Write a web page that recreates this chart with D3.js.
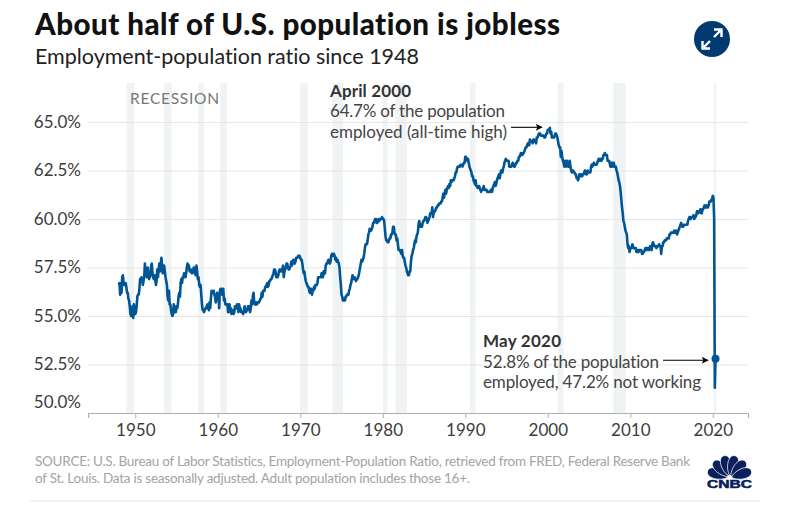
<!DOCTYPE html>
<html>
<head>
<meta charset="utf-8">
<script src="https://cdn.jsdelivr.net/npm/d3@7"></script>
<style>
  html, body { margin: 0; padding: 0; background: #fff; }
  text { font-family: Lato, "Noto Sans", sans-serif; font-variant-ligatures: none; }
</style>
</head>
<body>
<svg id="graph" width="808" height="509"></svg>
<script>
// employment-population ratio, monthly, one row per year starting Jan 1948
const startYear = 1948;
const ratio = [
  56.6,56.7,56.1,56.7,56.2,57.0,57.1,56.7,56.6,56.6,56.7,56.5,
  56.2,56.2,55.9,55.8,55.5,55.1,55.0,55.2,55.5,54.9,55.6,55.2,
  55.1,55.2,55.5,56.0,56.1,56.1,56.4,56.9,56.8,57.0,56.9,56.6,
  56.8,57.0,57.7,57.2,57.4,57.0,57.5,57.1,56.9,57.0,57.1,57.6,
  57.7,57.2,57.0,56.9,57.1,56.9,56.6,56.8,57.4,57.0,57.4,57.7,
  57.3,57.6,58.0,57.6,57.2,57.5,57.6,57.3,57.0,56.8,56.6,56.0,
  55.8,56.3,55.6,55.6,55.3,55.1,55.0,55.1,55.6,55.4,55.2,55.2,
  55.5,55.4,55.6,56.0,56.2,56.0,56.7,56.9,56.7,57.0,57.0,57.2,
  57.1,57.0,57.2,57.5,57.7,57.5,57.6,57.3,57.4,57.4,57.2,57.2,
  57.3,57.5,57.5,57.2,57.1,57.6,57.3,56.9,57.0,56.6,56.5,56.6,
  56.1,55.6,55.3,55.3,55.2,55.3,55.4,55.4,55.5,55.6,55.4,55.3,
  55.7,55.4,55.9,56.3,56.2,56.2,56.3,56.1,56.0,55.7,55.9,56.2,
  56.0,56.1,55.4,56.3,56.4,56.4,56.1,56.1,56.4,55.8,55.9,55.6,
  55.6,55.6,55.6,55.2,55.2,55.6,55.3,55.4,55.1,55.2,55.3,55.1,
  55.2,55.5,55.5,55.4,55.6,55.4,55.2,55.6,55.4,55.4,55.2,55.2,
  55.2,55.1,55.3,55.5,55.3,55.2,55.3,55.3,55.5,55.4,55.5,55.2,
  55.4,55.8,55.6,56.0,56.2,55.7,55.6,55.6,55.7,55.6,55.7,55.7,
  55.7,55.8,55.9,55.9,56.2,56.0,56.3,56.3,56.3,56.5,56.5,56.6,
  56.7,56.5,56.6,56.8,56.8,56.9,56.9,57.0,57.1,57.2,57.4,57.4,
  57.3,57.0,57.0,57.0,57.1,57.3,57.4,57.4,57.3,57.3,57.4,57.6,
  57.0,57.3,57.4,57.5,57.7,57.7,57.5,57.4,57.4,57.5,57.6,57.8,
  57.6,57.8,57.9,57.8,57.7,57.8,58.0,58.0,58.0,58.1,58.1,58.1,
  58.0,57.9,57.9,57.7,57.4,57.2,57.3,57.0,56.8,56.7,56.6,56.5,
  56.5,56.3,56.2,56.4,56.4,56.1,56.3,56.3,56.5,56.4,56.6,56.6,
  56.6,56.7,57.0,57.0,57.0,57.0,57.0,57.2,57.1,57.0,57.3,57.3,
  57.2,57.6,57.7,57.7,57.8,57.9,57.8,57.7,57.8,58.1,58.2,58.1,
  58.2,58.2,58.1,57.9,58.0,57.8,57.9,57.8,57.7,57.5,57.0,56.6,
  56.1,56.0,55.8,55.8,55.9,55.8,56.0,56.0,56.1,56.1,56.1,56.3,
  56.4,56.6,56.7,56.9,57.1,56.9,57.0,57.0,56.9,56.8,56.9,56.9,
  57.0,57.1,57.3,57.5,57.7,57.9,57.8,57.9,58.0,58.2,58.5,58.7,
  58.7,58.7,58.9,59.2,59.3,59.5,59.4,59.4,59.5,59.6,59.8,59.8,
  59.9,60.0,60.0,59.8,59.8,59.9,60.0,59.9,60.0,60.0,60.0,60.1,
  60.0,60.0,59.9,59.5,59.1,58.9,58.9,58.8,58.8,58.9,59.0,59.0,
  59.2,59.2,59.3,59.6,59.6,59.3,59.2,59.2,58.9,59.0,58.7,58.4,
  58.4,58.4,58.3,58.2,58.4,58.1,58.0,58.0,57.8,57.6,57.5,57.3,
  57.2,57.1,57.1,57.3,57.3,57.8,58.1,58.2,58.4,58.5,58.7,58.9,
  58.8,59.1,59.2,59.3,59.7,59.9,59.7,59.6,59.6,59.6,59.8,59.9,
  59.9,60.0,60.1,60.1,60.0,59.8,59.9,60.0,60.1,60.3,60.3,60.3,
  60.6,60.1,60.3,60.4,60.4,60.5,60.6,60.6,60.7,60.7,60.8,60.8,
  60.8,60.9,60.9,61.1,61.3,61.1,61.3,61.5,61.3,61.5,61.6,61.7,
  61.6,61.8,61.7,62.0,61.9,62.0,62.0,62.0,62.1,62.2,62.4,62.4,
  62.6,62.7,62.7,62.7,62.7,62.8,62.8,62.8,62.7,62.8,62.9,62.9,
  63.2,63.2,63.1,63.0,63.1,62.9,62.7,62.6,62.5,62.4,62.2,62.2,
  62.0,61.9,61.8,62.0,61.7,61.7,61.6,61.6,61.7,61.6,61.5,61.4,
  61.5,61.5,61.6,61.7,61.5,61.5,61.5,61.5,61.4,61.4,61.4,61.4,
  61.4,61.5,61.5,61.4,61.6,61.7,61.8,61.9,61.7,61.8,62.0,62.1,
  62.2,62.3,62.1,62.3,62.5,62.4,62.4,62.6,62.7,62.9,63.0,63.1,
  63.0,63.0,63.0,63.0,62.7,62.7,62.7,62.7,62.8,62.9,62.8,62.7,
  62.7,62.8,62.9,62.9,63.0,63.0,63.2,63.2,63.3,63.4,63.3,63.3,
  63.4,63.4,63.5,63.6,63.7,63.7,63.8,63.9,63.8,63.8,64.1,64.0,
  64.0,64.0,63.9,64.1,64.1,64.0,64.0,63.9,64.2,64.2,64.3,64.4,
  64.4,64.4,64.3,64.3,64.3,64.3,64.3,64.2,64.2,64.3,64.4,64.4,
  64.6,64.6,64.6,64.7,64.4,64.5,64.2,64.2,64.2,64.2,64.3,64.4,
  64.4,64.3,64.2,64.0,63.8,63.7,63.7,63.2,63.5,63.2,63.0,62.9,
  62.7,63.0,62.8,62.7,63.0,62.8,62.7,62.7,63.0,62.7,62.5,62.4,
  62.5,62.5,62.4,62.4,62.3,62.3,62.1,62.1,62.0,62.1,62.3,62.2,
  62.3,62.3,62.2,62.3,62.3,62.4,62.5,62.4,62.3,62.3,62.5,62.4,
  62.4,62.4,62.4,62.7,62.8,62.7,62.8,62.9,62.8,62.8,62.8,62.8,
  62.9,63.0,63.1,63.0,63.1,63.1,63.0,63.1,63.1,63.3,63.3,63.4,
  63.3,63.3,63.3,63.0,63.0,63.0,62.9,62.7,62.9,62.7,62.9,62.7,
  62.9,62.7,62.7,62.7,62.5,62.4,62.2,62.0,61.9,61.7,61.4,61.0,
  60.6,60.3,59.9,59.8,59.6,59.4,59.3,59.2,58.7,58.5,58.6,58.3,
  58.5,58.5,58.5,58.7,58.6,58.5,58.5,58.5,58.5,58.3,58.3,58.4,
  58.3,58.4,58.4,58.4,58.4,58.2,58.2,58.3,58.3,58.4,58.5,58.5,
  58.4,58.5,58.5,58.4,58.5,58.6,58.5,58.4,58.7,58.8,58.7,58.6,
  58.6,58.6,58.5,58.6,58.6,58.6,58.7,58.6,58.6,58.2,58.6,58.6,
  58.8,58.8,58.9,58.9,58.9,59.0,59.0,59.0,59.0,59.2,59.2,59.3,
  59.3,59.3,59.3,59.3,59.4,59.3,59.3,59.4,59.2,59.3,59.4,59.5,
  59.6,59.7,59.8,59.7,59.6,59.6,59.7,59.7,59.7,59.7,59.7,59.7,
  59.9,60.0,60.1,60.1,60.0,60.1,60.1,60.1,60.2,60.0,60.1,60.1,
  60.2,60.4,60.4,60.3,60.4,60.4,60.5,60.3,60.3,60.5,60.5,60.6,
  60.7,60.6,60.6,60.7,60.6,60.6,60.7,60.9,60.9,60.9,61.0,61.0,
  61.2,61.1,60.0,51.3,52.8
];
const recessions = [
  [1948.95,1949.85],[1953.5,1954.4],[1957.65,1958.35],[1960.3,1961.1],
  [1969.95,1970.9],[1973.9,1975.2],[1980.0,1980.55],[1981.55,1982.9],
  [1990.55,1991.25],[2001.2,2001.9],[2007.95,2009.45],[2020.1,2020.4]
];
const yTicks = [50, 52.5, 55, 57.5, 60, 62.5, 65];
const xTicks = [1950, 1960, 1970, 1980, 1990, 2000, 2010, 2020];

let svg = d3.select("#graph");

let x = d3.scaleLinear().domain([1944.27, 2024.27]).range([88, 748]),
    y = d3.scaleLinear().domain([50, 65]).range([413, 122]);

let series = ratio.map((v, i) => ({year: startYear + i / 12, value: v}));

//======================= RECESSION BANDS =======================
svg.selectAll(".recession")
  .data(recessions)
  .enter().append("rect")
    .attr("class", "recession")
    .attr("x", d => x(d[0]))
    .attr("width", d => x(d[1]) - x(d[0]))
    .attr("y", 83)
    .attr("height", 413 - 83)
    .attr("fill", "#eff3f3");

//======================= AXES =======================
let yAxis = svg.append("g")
  .attr("transform", "translate(88,0)")
  .call(d3.axisLeft(y).tickValues(yTicks).tickSize(-660).tickFormat(d3.format(".1f")));
yAxis.select(".domain").remove();
yAxis.selectAll("line").attr("stroke", "#e6e6e6");
yAxis.selectAll("line").filter(d => d === 50).remove();
yAxis.selectAll("text")
  .attr("x", -7)
  .text(d => d3.format(".1f")(d) + "%")
  .attr("dy", d => d === 50 ? "-0.34em" : "0.32em")
  .style("font-size", "17px")
  .attr("fill", "#3c3c3c");

let xAxis = svg.append("g")
  .attr("transform", "translate(0,413)")
  .call(d3.axisBottom(x).tickValues(xTicks).tickSizeOuter(0).tickSize(5).tickFormat(d3.format("d")));
xAxis.select(".domain").attr("stroke", "#b0b0b0").attr("stroke-width", 1.2);
xAxis.selectAll("line").attr("stroke", "#b0b0b0");
xAxis.selectAll("text")
  .attr("y", 11)
  .style("font-size", "17px")
  .attr("fill", "#3c3c3c");

//======================= LINE =======================
let line = d3.line().x(d => x(d.year)).y(d => y(d.value));

svg.append("path")
  .datum(series)
  .attr("d", line)
  .attr("fill", "none")
  .attr("stroke", "#005594")
  .attr("stroke-width", 2.6)
  .attr("stroke-linejoin", "round");

let last = series[series.length - 1];
svg.append("circle")
  .attr("cx", x(last.year))
  .attr("cy", y(last.value))
  .attr("r", 4)
  .attr("fill", "#005594");

//======================= TEXT =======================
function label(str, px, py, size, weight, fill, len) {
  let t = svg.append("text")
    .attr("x", px).attr("y", py)
    .attr("fill", fill)
    .style("font-size", size + "px")
    .style("font-weight", weight)
    .text(str);
  if (len) t.attr("textLength", len).attr("lengthAdjust", "spacing");
  return t;
}

label("About half of U.S. population is jobless", 35, 35, 29.5, 900, "#111", 525);
label("Employment-population ratio since 1948", 35, 64, 21.5, 400, "#222", 384);
label("RECESSION", 130, 104, 15.5, 400, "#777", 89);

label("April 2000", 330, 97, 17, 700, "#333", 81);
label("64.7% of the population", 330, 117, 17, 400, "#444", 175);
label("employed (all-time high)", 330, 138, 17, 400, "#444", 177);

label("May 2020", 483, 347, 17, 700, "#333", 78);
label("52.8% of the population", 483, 368, 17, 400, "#444", 176);
label("employed, 47.2% not working", 483, 388, 17, 400, "#444", 218);

label("SOURCE: U.S. Bureau of Labor Statistics, Employment-Population Ratio, retrieved from FRED, Federal Reserve Bank", 35, 466, 13.5, 400, "#a3a3a3", 655);
label("of St. Louis. Data is seasonally adjusted. Adult population includes those 16+.", 35, 483, 13.5, 400, "#a3a3a3", 435);

// footer rule
svg.append("line")
  .attr("x1", 30).attr("x2", 760).attr("y1", 501).attr("y2", 501)
  .attr("stroke", "#e6e6e6").attr("stroke-width", 1);

//======================= ANNOTATION ARROWS =======================
let defs = svg.append("defs");
defs.append("marker")
  .attr("id", "head")
  .attr("viewBox", "0 0 10 10")
  .attr("refX", 9).attr("refY", 5)
  .attr("markerWidth", 8).attr("markerHeight", 7)
  .attr("markerUnits", "userSpaceOnUse")
  .attr("orient", "auto")
  .append("path")
    .attr("d", "M0,0L10,5L0,10L2.5,5Z")
    .attr("fill", "#000");

[[511, 127.3, 542], [663, 360.3, 708]].forEach(a => {
  svg.append("line")
    .attr("x1", a[0]).attr("x2", a[2]).attr("y1", a[1]).attr("y2", a[1])
    .attr("stroke", "#000").attr("stroke-width", 1.1)
    .attr("marker-end", "url(#head)");
});

//======================= EXPAND ICON =======================
let icon = svg.append("g").attr("transform", "translate(712,39)");
icon.append("circle").attr("r", 18).attr("fill", "#003a70");
icon.append("path")
  .attr("d", "M2,-2L8,-8M2,-9.5H9.5V-2M-2,2L-8,8M-9.5,2V9.5H-2")
  .attr("fill", "none").attr("stroke", "#fff").attr("stroke-width", 2.4);

//======================= LOGO =======================
let logo = svg.append("g").attr("transform", "translate(729.5,478)");
[-72, -43, -14, 14, 43, 72].forEach(a => {
  logo.append("path")
    .attr("d", "M0,-2C-7,-9 -7,-23 0,-23C7,-23 7,-9 0,-2Z")
    .attr("transform", "rotate(" + a + ")")
    .attr("fill", "#0a1f5c")
    .attr("stroke", "#fff")
    .attr("stroke-width", 0.7);
});
svg.append("text")
  .attr("x", 707).attr("y", 488)
  .attr("textLength", 45).attr("lengthAdjust", "spacingAndGlyphs")
  .style("font-family", "'Liberation Sans', Arial, sans-serif")
  .style("font-size", "10px").style("font-weight", 700)
  .attr("fill", "#0a1f5c")
  .attr("stroke", "#0a1f5c").attr("stroke-width", 0.5)
  .text("CNBC");
</script>
</body>
</html>
